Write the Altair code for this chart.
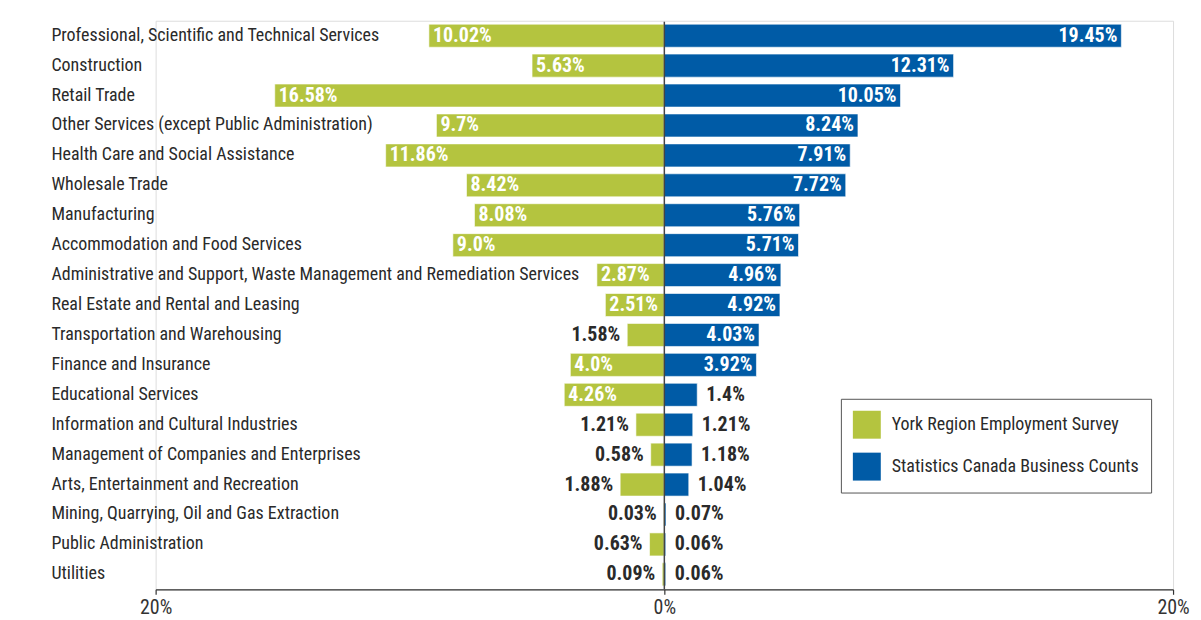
import altair as alt
import pandas as pd

industries = [
    "Professional, Scientific and Technical Services",
    "Construction",
    "Retail Trade",
    "Other Services (except Public Administration)",
    "Health Care and Social Assistance",
    "Wholesale Trade",
    "Manufacturing",
    "Accommodation and Food Services",
    "Administrative and Support, Waste Management and Remediation Services",
    "Real Estate and Rental and Leasing",
    "Transportation and Warehousing",
    "Finance and Insurance",
    "Educational Services",
    "Information and Cultural Industries",
    "Management of Companies and Enterprises",
    "Arts, Entertainment and Recreation",
    "Mining, Quarrying, Oil and Gas Extraction",
    "Public Administration",
    "Utilities",
]
york = [10.02, 5.63, 16.58, 9.7, 11.86, 8.42, 8.08, 9.0, 2.87, 2.51,
        1.58, 4.0, 4.26, 1.21, 0.58, 1.88, 0.03, 0.63, 0.09]
statcan = [19.45, 12.31, 10.05, 8.24, 7.91, 7.72, 5.76, 5.71, 4.96, 4.92,
           4.03, 3.92, 1.4, 1.21, 1.18, 1.04, 0.07, 0.06, 0.06]
series_names = ["York Region Employment Survey", "Statistics Canada Business Counts"]
tick_labels = ["20%", "0%", "20%"]

GREEN = "#b4c43f"
BLUE = "#005ba6"
FONT = "Roboto Condensed, Liberation Sans Narrow, DejaVu Sans Condensed, Roboto, sans-serif"
D = 21.65  # half-width of the drawn axis, in percent

rows = []
for name, y_val, s_val in zip(industries, york, statcan):
    rows.append({"industry": name, "series": series_names[0], "value": y_val,
                 "signed": -y_val, "label": f"{y_val}%", "inside": y_val >= 2.5})
    rows.append({"industry": name, "series": series_names[1], "value": s_val,
                 "signed": s_val, "label": f"{s_val}%", "inside": s_val >= 3.5})
df = pd.DataFrame(rows)

y_enc = alt.Y("industry:N", sort=industries,
              scale=alt.Scale(paddingInner=0.23, paddingOuter=0.115),
              axis=alt.Axis(title=None, domain=False, ticks=False, labelAlign="left",
                            labelPadding=105, labelLimit=0, labelFontSize=18,
                            labelColor="#2a2a2a", labelFont=FONT))
x_scale = alt.Scale(domain=[-D, D], nice=False, zero=False)
x_axis = alt.Axis(title=None, values=[-D, 0, D], grid=False, tickSize=5,
                  tickColor="#333", domainColor="#333", domainWidth=1.2, tickWidth=1.2,
                  labelFontSize=20, labelColor="#333", labelFont=FONT, labelPadding=3,
                  labelFlush=False,
                  labelExpr=f"datum.value < 0 ? '{tick_labels[0]}' : (datum.value > 0 ? '{tick_labels[2]}' : '{tick_labels[1]}')")

base = alt.Chart(df)

bars = base.mark_bar(stroke="white", strokeWidth=0.6).encode(
    y=y_enc,
    x=alt.X("signed:Q", scale=x_scale, axis=x_axis),
    x2=alt.X2(datum=0),
    color=alt.Color("series:N", sort=series_names,
                    scale=alt.Scale(domain=series_names, range=[GREEN, BLUE]),
                    legend=alt.Legend(title=None, orient="none", legendX=687, legendY=379,
                                      symbolType="square", symbolSize=784,
                                      symbolStrokeWidth=0, symbolOpacity=1,
                                      labelFontSize=18, labelColor="#2a2a2a", labelFont=FONT,
                                      labelLimit=0, labelOffset=11, rowPadding=14,
                                      padding=12, strokeColor="#555", fillColor="white")),
)

def labels(series, inside, align, dx, color):
    return base.transform_filter(
        (alt.datum.series == series) & (alt.datum.inside == inside)
    ).mark_text(align=align, baseline="middle", dx=dx, fontSize=20, fontWeight="bold",
                font=FONT, color=color).encode(
        y=alt.Y("industry:N", sort=industries),
        x=alt.X("signed:Q"),
        text="label:N",
    )

zero = alt.Chart(pd.DataFrame({"z": [0]})).mark_rule(color="#444", strokeWidth=1.5).encode(
    x=alt.X("z:Q"), y=alt.value(1), y2=alt.value(570))

chart = alt.layer(
    bars,
    zero,
    labels(series_names[0], True, "left", 4, "white"),
    labels(series_names[0], False, "right", -7, "#2a2a2a"),
    labels(series_names[1], True, "right", -4, "white"),
    labels(series_names[1], False, "left", 9, "#2a2a2a"),
).properties(
    width=1020, height=570,
    autosize=alt.AutoSizeParams(type="none"),
    padding={"left": 148, "top": 12, "right": 20, "bottom": 30},
).configure_view(stroke=None).configure(background="white")

chart.save("out.html", embed_options={"renderer": "svg", "actions": False})
